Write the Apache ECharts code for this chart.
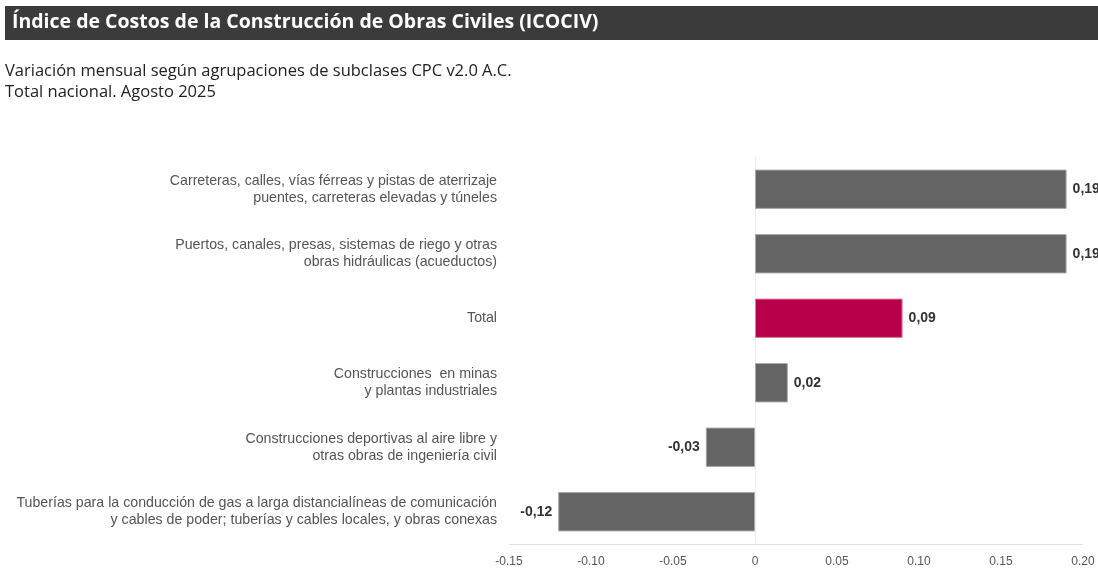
<!DOCTYPE html>
<html>
<head>
<meta charset="utf-8">
<script src="https://cdn.jsdelivr.net/npm/echarts@6/dist/echarts.min.js"></script>
<style>
  html, body { margin: 0; padding: 0; background: #fff; }
  #main { width: 1098px; height: 573px; }
</style>
</head>
<body>
<div id="main"></div>
<script>
// categories listed bottom to top (category axis on y starts at bottom)
const categories = [
  'Tuberías para la conducción de gas a larga distancialíneas de comunicación\ny cables de poder; tuberías y cables locales, y obras conexas',
  'Construcciones deportivas al aire libre y\notras obras de ingeniería civil',
  'Construcciones  en minas\ny plantas industriales',
  'Total',
  'Puertos, canales, presas, sistemas de riego y otras\nobras hidráulicas (acueductos)',
  'Carreteras, calles, vías férreas y pistas de aterrizaje\npuentes, carreteras elevadas y túneles'
];
const values = [-0.12, -0.03, 0.02, 0.09, 0.19, 0.19];
const highlight = 'Total';

const chartDom = document.getElementById('main');
const myChart = echarts.init(chartDom);

const option = {
  animation: false,
  backgroundColor: '#fff',
  graphic: [
    {
      type: 'rect',
      left: 5, top: 6,
      shape: { width: 1093, height: 34 },
      style: { fill: '#3b3b3b' }
    }
  ],
  title: [
    {
      text: 'Índice de Costos de la Construcción de Obras Civiles (ICOCIV)',
      left: 12, top: 12,
      padding: 0,
      textStyle: { color: '#fff', fontFamily: 'Open Sans', fontWeight: 'bold', fontSize: 19.5 }
    },
    {
      text: 'Variación mensual según agrupaciones de subclases CPC v2.0 A.C.\nTotal nacional. Agosto 2025',
      left: 5, top: 61,
      padding: 0,
      textStyle: { color: '#222', fontFamily: 'Open Sans', fontWeight: 'normal', fontSize: 16.5, lineHeight: 21 }
    }
  ],
  grid: { left: 509, right: 15, top: 157, bottom: 29, containLabel: false },
  xAxis: {
    type: 'value',
    min: -0.15,
    max: 0.20,
    interval: 0.05,
    splitLine: { show: false },
    axisLine: { show: true, lineStyle: { color: '#e0e0e0', width: 1 } },
    axisTick: { show: false },
    axisLabel: {
      color: '#555',
      fontFamily: 'Liberation Sans',
      fontSize: 12,
      margin: 12,
      formatter: v => (Math.abs(v) < 1e-9 ? '0' : v.toFixed(2))
    }
  },
  yAxis: {
    type: 'category',
    data: categories,
    axisLine: { show: true, lineStyle: { color: '#eeeeee', width: 1 } },
    axisTick: { show: false },
    axisLabel: {
      color: '#555',
      fontFamily: 'Liberation Sans',
      fontSize: 14.2,
      lineHeight: 17,
      align: 'right',
      margin: 12
    }
  },
  series: [
    {
      type: 'bar',
      barWidth: '61%',
      data: values.map((v, i) => ({
        value: v,
        itemStyle: {
          color: categories[i] === highlight ? '#b8004a' : '#646464',
          borderColor: categories[i] === highlight ? '#d97aa0' : '#a8a8a8',
          borderWidth: 1
        },
        label: { position: v < 0 ? 'left' : 'right' }
      })),
      label: {
        show: true,
        distance: 6,
        color: '#333',
        fontFamily: 'Liberation Sans',
        fontWeight: 'bold',
        fontSize: 14,
        formatter: p => p.value.toFixed(2).replace('.', ',')
      }
    }
  ]
};

myChart.setOption(option);
</script>
</body>
</html>
